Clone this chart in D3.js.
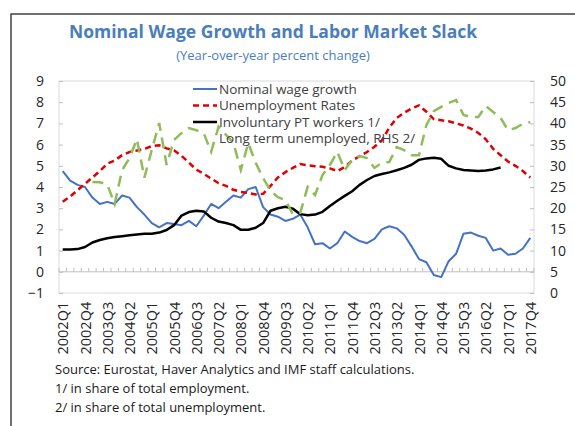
<!DOCTYPE html>
<html>
<head>
<meta charset="utf-8">
<script src="https://cdn.jsdelivr.net/npm/d3@7"></script>
<style>
  html, body { margin: 0; padding: 0; background: #fff; }
  svg { display: block; font-family: "Open Sans", "Noto Sans", sans-serif; }
</style>
</head>
<body>
<svg id="chart" width="575" height="426"></svg>
<script>
// ---------- DATA ----------
const years = [2002,2003,2004,2005,2006,2007,2008,2009,2010,2011,2012,2013,2014,2015,2016,2017];
const quarterNames = ["Q1","Q2","Q3","Q4"];
const categories = [];
years.forEach(y => quarterNames.forEach(q => categories.push(y + q)));

const tickLabels = ["2002Q1","2002Q4","2003Q3","2004Q2","2005Q1","2005Q4","2006Q3","2007Q2",
  "2008Q1","2008Q4","2009Q3","2010Q2","2011Q1","2011Q4","2012Q3","2013Q2","2014Q1","2014Q4",
  "2015Q3","2016Q2","2017Q1","2017Q4"];

const leftTicks = [-1,0,1,2,3,4,5,6,7,8,9];
const rightTicks = [0,5,10,15,20,25,30,35,40,45,50];

const wageGrowth = [4.75,4.3,4.1,4.0,3.5,3.2,3.3,3.2,3.6,3.5,
  3.05,2.7,2.3,2.1,2.3,2.25,2.2,2.4,2.15,2.65,
  3.2,3.0,3.3,3.6,3.5,3.9,4.0,3.05,2.7,2.6,
  2.4,2.5,2.7,2.1,1.3,1.35,1.1,1.35,1.9,1.65,
  1.45,1.35,1.55,2.0,2.15,2.05,1.75,1.2,0.6,0.45,
  -0.15,-0.25,0.5,0.85,1.8,1.85,1.7,1.6,1.0,1.1,
  0.8,0.85,1.1,1.6];

const unemploymentRate = [3.3,3.55,3.85,4.15,4.45,4.75,5.1,5.25,5.5,5.65,
  5.72,5.8,5.93,5.97,5.82,5.73,5.47,5.15,4.82,4.62,
  4.4,4.18,4.05,3.87,3.77,3.72,3.65,3.68,4.05,4.45,
  4.7,4.9,5.08,5.02,4.98,4.95,4.88,4.75,4.95,5.25,
  5.45,5.65,5.9,6.2,6.8,7.25,7.5,7.7,7.85,7.55,
  7.2,7.15,7.1,7.0,6.9,6.75,6.55,6.25,5.8,5.5,
  5.2,5.0,4.75,4.45];

const involuntaryPT = [1.05,1.05,1.07,1.17,1.38,1.5,1.58,1.64,1.68,1.72,
  1.76,1.79,1.79,1.85,1.97,2.2,2.65,2.82,2.88,2.85,
  2.55,2.37,2.3,2.2,1.98,1.98,2.08,2.3,2.88,3.0,
  3.07,2.98,2.72,2.67,2.7,2.83,3.1,3.35,3.58,3.8,
  4.1,4.33,4.52,4.61,4.69,4.79,4.9,5.05,5.28,5.35,
  5.38,5.33,5.0,4.88,4.8,4.78,4.76,4.78,4.83,4.92,
  null,null,null,null];

const longTermUnemployed = [null,null,null,null,26.2,26.1,25.6,21.0,29.0,31.8,
  36.3,27.2,33.7,40.1,30.2,36.1,37.7,38.9,38.4,37.7,
  33.3,39.2,37.3,35.4,29.0,35.4,30.7,27.1,24.1,22.6,
  21.9,18.6,18.9,25.0,23.1,27.8,30.2,33.3,29.0,31.4,
  32.3,31.8,29.5,30.7,30.9,34.4,33.7,32.5,32.5,39.6,
  42.9,43.9,44.8,45.5,42.0,41.5,41.5,44.1,42.7,41.3,
  38.4,38.9,39.9,40.3];

const seriesNames = ["Nominal wage growth","Unemployment Rates","Involuntary PT workers 1/","Long term unemployed, RHS 2/"];
const titleText = "Nominal Wage Growth and Labor Market Slack";
const subtitleText = "(Year-over-year percent change)";
const notes = ["Source: Eurostat, Haver Analytics and IMF staff calculations.",
  "1/ in share of total employment.",
  "2/ in share of total unemployment."];

// ---------- LAYOUT ----------
const svg = d3.select("#chart");
const plot = {left: 59, right: 534, top: 81, bottom: 293};

const x = d3.scalePoint().domain(categories).range([plot.left, plot.right]).padding(0.5);
const yL = d3.scaleLinear().domain([-1, 9]).range([plot.bottom, plot.top]);
const yR = d3.scaleLinear().domain([0, 50]).range([plot.bottom, plot.top]);

// outer frame
svg.append("rect").attr("x", 11).attr("y", 14).attr("width", 600).attr("height", 450)
  .attr("fill", "none").attr("stroke", "#262626").attr("stroke-width", 1.3);

// title
svg.append("text").attr("x", 273).attr("y", 38).attr("text-anchor", "middle")
  .attr("font-size", 17.5).attr("font-weight", "bold").attr("fill", "#4a7ebb").text(titleText);
svg.append("text").attr("x", 273).attr("y", 60).attr("text-anchor", "middle")
  .attr("font-size", 13).attr("fill", "#4a7ebb").text(subtitleText);

// plot box
svg.append("rect").attr("x", plot.left).attr("y", plot.top)
  .attr("width", plot.right - plot.left).attr("height", plot.bottom - plot.top)
  .attr("fill", "none").attr("stroke", "#d9d9d9").attr("stroke-width", 1);

// left axis
const gL = svg.append("g").attr("transform", `translate(${plot.left},0)`)
  .call(d3.axisLeft(yL).tickValues(leftTicks).tickSizeInner(-4).tickSizeOuter(0).tickPadding(15).tickFormat(d3.format("d")));
gL.select(".domain").remove();
gL.selectAll("line").attr("stroke", "#bfbfbf");
gL.selectAll("text").attr("font-size", 14).attr("fill", "#262626").attr("font-family", "Open Sans");

// right axis
const gR = svg.append("g").attr("transform", `translate(${plot.right},0)`)
  .call(d3.axisRight(yR).tickValues(rightTicks).tickSizeInner(-4).tickSizeOuter(0).tickPadding(16).tickFormat(d3.format("d")));
gR.select(".domain").remove();
gR.selectAll("line").attr("stroke", "#bfbfbf");
gR.selectAll("text").attr("font-size", 14).attr("fill", "#262626").attr("font-family", "Open Sans");

// category axis at zero, ticks between categories
const step = x.step();
const boundaries = d3.range(categories.length + 1).map(i => plot.left + i * step);
const zeroY = yL(0);
svg.append("line").attr("x1", plot.left).attr("x2", plot.right).attr("y1", zeroY).attr("y2", zeroY)
  .attr("stroke", "#bfbfbf").attr("stroke-width", 1);
svg.append("g").selectAll("line").data(boundaries).join("line")
  .attr("x1", d => d).attr("x2", d => d).attr("y1", zeroY).attr("y2", zeroY - 4)
  .attr("stroke", "#bfbfbf").attr("stroke-width", 1);

// category labels
const gX = svg.append("g").attr("transform", `translate(0,${zeroY})`)
  .call(d3.axisBottom(x).tickValues(tickLabels).tickSize(0));
gX.select(".domain").remove();
gX.selectAll("text")
  .attr("transform", "rotate(-90)")
  .attr("x", -30).attr("y", 0).attr("dy", "0.35em")
  .attr("text-anchor", "end")
  .attr("font-size", 14.5).attr("fill", "#262626").attr("font-family", "Open Sans");

// lines
const lineL = d3.line().defined(d => d[1] !== null).x(d => x(d[0])).y(d => yL(d[1]));
const lineR = d3.line().defined(d => d[1] !== null).x(d => x(d[0])).y(d => yR(d[1]));
const zip = arr => categories.map((c, i) => [c, arr[i]]);

svg.append("path").datum(zip(wageGrowth)).attr("d", lineL)
  .attr("fill", "none").attr("stroke", "#4472c4").attr("stroke-width", 2).attr("stroke-linejoin", "round");
svg.append("path").datum(zip(unemploymentRate)).attr("d", lineL)
  .attr("fill", "none").attr("stroke", "#e00000").attr("stroke-width", 2.5).attr("stroke-dasharray", "6,4");
svg.append("path").datum(zip(involuntaryPT)).attr("d", lineL)
  .attr("fill", "none").attr("stroke", "#000").attr("stroke-width", 2.5).attr("stroke-linejoin", "round");
svg.append("path").datum(zip(longTermUnemployed)).attr("d", lineR)
  .attr("fill", "none").attr("stroke", "#8fbc5a").attr("stroke-width", 2.5).attr("stroke-dasharray", "11,7");

// legend
const legendY = [89, 105.5, 122, 138.5];
const legendStyles = [
  {stroke: "#4472c4", w: 2, dash: null},
  {stroke: "#e00000", w: 2.5, dash: "6,4"},
  {stroke: "#000", w: 2.5, dash: null},
  null
];
seriesNames.forEach((name, i) => {
  const st = legendStyles[i];
  if (st) {
    svg.append("line").attr("x1", 193).attr("x2", 217).attr("y1", legendY[i]).attr("y2", legendY[i])
      .attr("stroke", st.stroke).attr("stroke-width", st.w).attr("stroke-dasharray", st.dash);
  }
  svg.append("text").attr("x", 219).attr("y", legendY[i]).attr("dy", "0.35em")
    .attr("font-size", 13.5).attr("fill", "#404040").text(name);
});

// notes
const noteY = [374, 393, 412];
notes.forEach((t, i) => {
  svg.append("text").attr("x", 55).attr("y", noteY[i]).attr("font-size", 13).attr("fill", "#1a1a1a").text(t);
});
</script>
</body>
</html>
